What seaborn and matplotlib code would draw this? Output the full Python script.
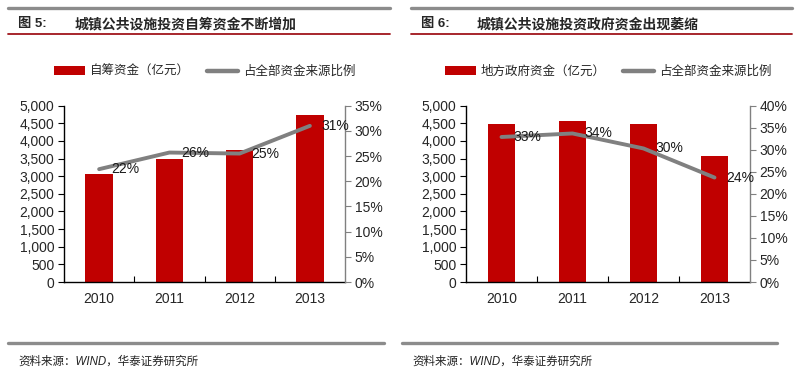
import numpy as np
import pandas as pd
import matplotlib
matplotlib.use("Agg")
import matplotlib.pyplot as plt
import seaborn as sns
from matplotlib.lines import Line2D
from matplotlib.patches import Patch
from matplotlib.ticker import FixedLocator, FuncFormatter

sns.set_theme(style="white")
plt.rcParams['font.family'] = ['Liberation Sans', 'Noto Sans CJK SC', 'DejaVu Sans']

# ---------------- data ----------------
years = ["2010", "2011", "2012", "2013"]

self_funds = [3070, 3480, 3745, 4725]          # 自筹资金（亿元）
self_ratio = [22.4, 25.7, 25.5, 31.0]          # 占全部资金来源比例 (%)
self_labels = ["22%", "26%", "25%", "31%"]

gov_funds = [4490, 4555, 4470, 3580]           # 地方政府资金（亿元）
gov_ratio = [32.9, 33.7, 30.3, 23.7]           # 占全部资金来源比例 (%)
gov_labels = ["33%", "34%", "30%", "24%"]

fig_titles = ["图 5:", "图 6:"]
titles = ["城镇公共设施投资自筹资金不断增加", "城镇公共设施投资政府资金出现萎缩"]
bar_names = ["自筹资金（亿元）", "地方政府资金（亿元）"]
line_name = "占全部资金来源比例"
source = "资料来源：WIND，华泰证券研究所"

BAR_COLOR = "#C00000"
LINE_COLOR = "#808080"
W, H = 801, 380
TICK_FS = 10

fig = plt.figure(figsize=(W / 100, H / 100), dpi=100)


def fx(px):
    return px / W


def fy(py):
    return 1 - py / H


def panel(x0, x1, funds, ratio, labels, rmax, bar_name, head_x0, head_x1,
          fig_title, title, title_num_x, title_x, src_x, foot_x0, foot_x1):
    top, bottom = 105.7, 282.0
    ax = fig.add_axes([fx(x0), fy(bottom), fx(x1 - x0), (bottom - top) / H])
    df = pd.DataFrame({"year": years, "funds": funds, "ratio": ratio})
    sns.barplot(data=df, x="year", y="funds", color=BAR_COLOR, width=0.39,
                saturation=1, ax=ax, edgecolor="none")
    ax.set_xlim(-0.5, len(years) - 0.5)
    ax.set_ylim(0, 5000)
    ax.set_yticks(np.arange(0, 5001, 500))
    ax.yaxis.set_major_formatter(FuncFormatter(lambda v, p: f"{int(v):,}"))
    ax.set_xlabel("")
    ax.set_ylabel("")
    for s in ["top", "right"]:
        ax.spines[s].set_visible(False)
    for s in ["left", "bottom"]:
        ax.spines[s].set_color("black")
        ax.spines[s].set_linewidth(1.0)
    ax.tick_params(axis="y", direction="out", length=4, width=0.8, color="black",
                   labelsize=TICK_FS, pad=3, left=True)
    ax.tick_params(axis="x", which="major", length=0, labelsize=TICK_FS, pad=7)
    ax.xaxis.set_minor_locator(FixedLocator(np.arange(0.5, len(years) - 1, 1.0)))
    ax.tick_params(axis="x", which="minor", direction="in", length=4, width=0.8,
                   color="black", bottom=True)
    ax.grid(False)

    ax2 = ax.twinx()
    df2 = pd.DataFrame({"pos": np.arange(len(years)), "ratio": ratio})
    sns.lineplot(data=df2, x="pos", y="ratio", color=LINE_COLOR, linewidth=2.8,
                 ax=ax2, legend=False)
    ax2.set_ylim(0, rmax)
    ax2.set_yticks(np.arange(0, rmax + 0.1, 5))
    ax2.yaxis.set_major_formatter(FuncFormatter(lambda v, p: f"{int(v)}%"))
    ax2.set_xlim(-0.5, len(years) - 0.5)
    ax2.set_ylabel("")
    ax2.set_xlabel("")
    for s in ["top", "left", "bottom"]:
        ax2.spines[s].set_visible(False)
    ax2.spines["right"].set_color(LINE_COLOR)
    ax2.spines["right"].set_linewidth(1.0)
    ax2.tick_params(axis="y", direction="out", length=4, width=0.8, color=LINE_COLOR,
                    labelsize=TICK_FS, pad=3, right=True)
    ax2.grid(False)
    for i, (v, lab) in enumerate(zip(ratio, labels)):
        ax2.annotate(lab, (i, v), xytext=(8.5, 0), textcoords="offset points",
                     va="center", ha="left", fontsize=TICK_FS, color="#1a1a1a")

    handles = [Patch(facecolor=BAR_COLOR, edgecolor="none"),
               Line2D([0], [0], color=LINE_COLOR, linewidth=3.2)]
    ax.legend(handles, [bar_name, line_name], loc="center",
              bbox_to_anchor=(fx((x0 + x1) / 2), fy(72)),
              bbox_transform=fig.transFigure, ncol=2, frameon=False,
              fontsize=9, handlelength=2.5, handleheight=0.75,
              handletextpad=0.35, columnspacing=1.4)

    # header decorations
    fig.add_artist(Line2D([fx(head_x0), fx(head_x1)], [fy(8), fy(8)],
                          color="#8c8c8c", linewidth=2.4, transform=fig.transFigure))
    fig.add_artist(Line2D([fx(head_x0), fx(head_x1)], [fy(33.5), fy(33.5)],
                          color="#A0151B", linewidth=1.3, transform=fig.transFigure))
    fig.text(fx(title_num_x), fy(24), fig_title, fontsize=9.5, fontweight="bold",
             va="center", ha="left")
    fig.text(fx(title_x), fy(24), title, fontsize=10, fontweight="bold",
             va="center", ha="left")
    # footer
    fig.add_artist(Line2D([fx(foot_x0), fx(foot_x1)], [fy(343), fy(343)],
                          color="#8c8c8c", linewidth=2.4, transform=fig.transFigure))
    fig.text(fx(src_x), fy(362), source, fontsize=8.3, fontstyle="italic",
             va="center", ha="left", color="#222222")


panel(64, 345, self_funds, self_ratio, self_labels, 35, bar_names[0],
      8, 390, fig_titles[0], titles[0], 18, 75, 18, 8, 384)
panel(466, 750, gov_funds, gov_ratio, gov_labels, 40, bar_names[1],
      411, 792, fig_titles[1], titles[1], 421, 477, 412, 402, 777)

fig.savefig("out.png", dpi=100)
